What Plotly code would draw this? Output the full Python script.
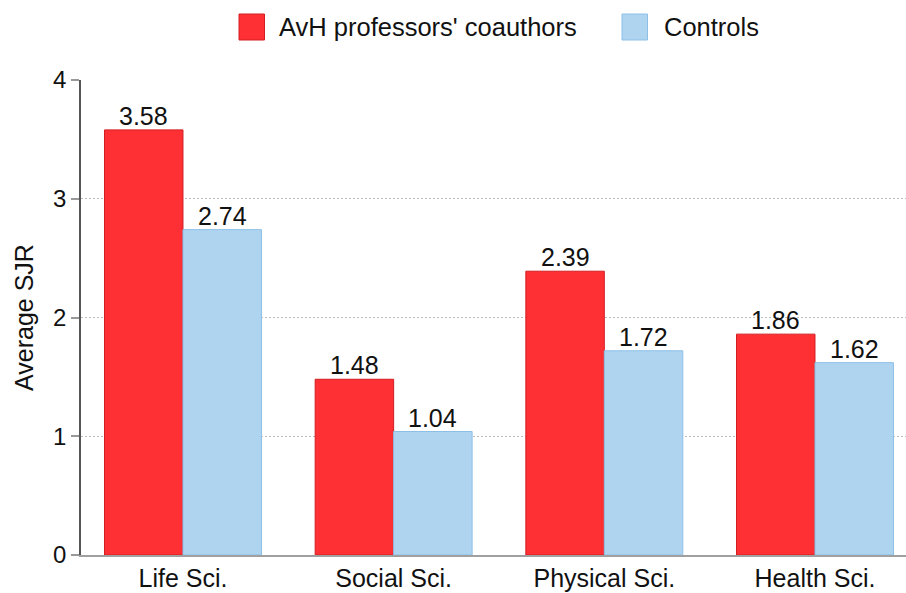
import plotly.graph_objects as go

# Average SJR by field
fields = ["Life Sci.", "Social Sci.", "Physical Sci.", "Health Sci."]
avh_coauthors = [3.58, 1.48, 2.39, 1.86]
controls = [2.74, 1.04, 1.72, 1.62]
series_names = ["AvH professors' coauthors", "Controls"]
y_ticks = [0, 1, 2, 3, 4]

RED = "#FF3034"
RED_EDGE = "#D21E22"
BLUE = "#AED4F0"
BLUE_EDGE = "#8DBFE6"
INK = "#111111"
FONT = "Liberation Sans, Arial, sans-serif"

W, H = 906, 593
ML, MR, MT, MB = 81, 0, 80, 38
PW, PH = W - ML - MR, H - MT - MB
BARGAP = 0.255
X_RANGE = [-0.484, 3.432]


def px_x(p):
    return (p - ML) / PW


def px_y(p):
    return (H - MB - p) / PH


# half a bar width in pixels: the two bars of a group share (1 - bargap) of a category slot
slot_px = PW / (X_RANGE[1] - X_RANGE[0])
half_bar = slot_px * (1 - BARGAP) / 4

fig = go.Figure()
annotations = []
for k, (name, vals, fill, edge) in enumerate([
    (series_names[0], avh_coauthors, RED, RED_EDGE),
    (series_names[1], controls, BLUE, BLUE_EDGE),
]):
    fig.add_trace(go.Bar(
        x=fields, y=vals, name=name,
        marker=dict(color=fill, line=dict(color=edge, width=1)),
        showlegend=False,
    ))
    # value labels sitting just above each bar
    for f, v in zip(fields, vals):
        annotations.append(dict(
            x=f, y=v, xref="x", yref="y", text=f"{v:.2f}",
            xshift=(-1 if k == 0 else 1) * half_bar, yshift=-2,
            xanchor="center", yanchor="bottom", showarrow=False,
            font=dict(size=25, color=INK, family=FONT),
        ))

# Legend drawn as swatches + labels above the plot
shapes = []
for (x0, x1, tx), name, fill, edge in zip(
    [(239, 264.5, 277), (622, 647.5, 662)], series_names, [RED, BLUE], [RED_EDGE, BLUE_EDGE]
):
    shapes.append(dict(type="rect", xref="paper", yref="paper",
                       x0=px_x(x0), x1=px_x(x1), y0=px_y(40), y1=px_y(14),
                       fillcolor=fill, line=dict(color=edge, width=1)))
    annotations.append(dict(text=name, xref="paper", yref="paper",
                            x=px_x(tx), y=px_y(27), xanchor="left", yanchor="middle",
                            showarrow=False, font=dict(size=25.5, color=INK, family=FONT)))

fig.update_layout(
    width=W, height=H,
    margin=dict(l=ML, r=MR, t=MT, b=MB),
    paper_bgcolor="white", plot_bgcolor="white",
    barmode="group", bargap=BARGAP, bargroupgap=0,
    font=dict(family=FONT, color=INK),
    shapes=shapes, annotations=annotations,
    xaxis=dict(
        type="category", range=X_RANGE,
        showline=True, linecolor="#A0A0A0", linewidth=2,
        showgrid=False, ticks="", tickfont=dict(size=25, color=INK),
        zeroline=False,
    ),
    yaxis=dict(
        range=[0, 4], tickvals=y_ticks,
        showline=True, linecolor="#555555", linewidth=1.5,
        ticks="outside", ticklen=8, tickcolor="#999999", tickwidth=1.5,
        tickfont=dict(size=24, color=INK),
        showgrid=True, gridcolor="#BDBDBD", griddash="1.5px,2.5px", gridwidth=1,
        zeroline=False,
        title=dict(text="Average SJR", font=dict(size=25, color=INK), standoff=12),
    ),
)

fig.write_html("out.html")
